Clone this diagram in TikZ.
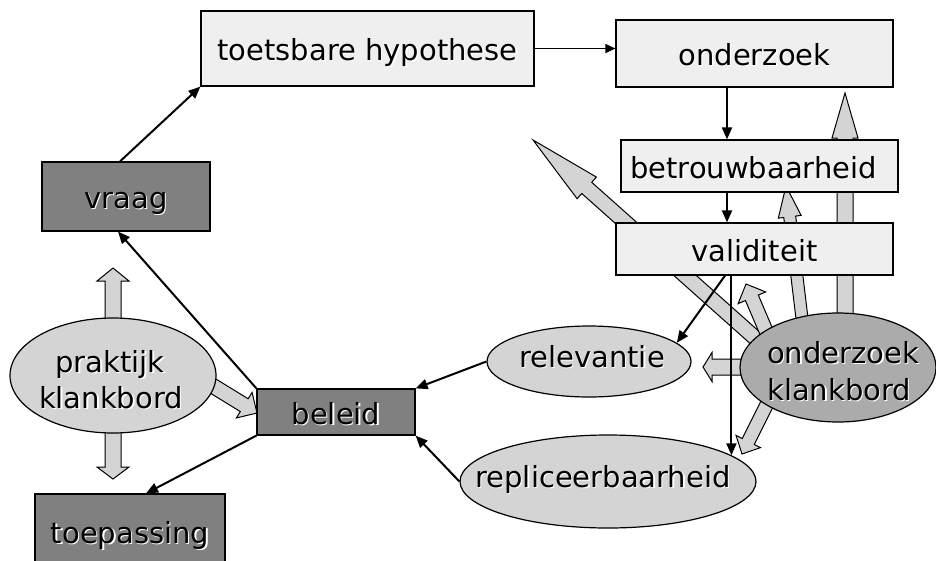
\documentclass[tikz,border=0pt]{standalone}
\usepackage{fontspec}
\setmainfont{DejaVu Sans}
\usetikzlibrary{shapes.geometric,arrows.meta,calc}
\definecolor{boxfill}{RGB}{238,239,238}
\definecolor{darkfill}{RGB}{128,128,128}
\definecolor{ellfill}{RGB}{212,212,212}
\definecolor{okfill}{RGB}{171,171,171}
\newcommand\shd[1]{\rlap{\kern1.3pt\raisebox{-1.3pt}{\color{white}#1}}#1}
\newcommand\blkarrow[6]{%
  \coordinate (#6t) at (#1);
  \coordinate (#6h) at (#2);
  \coordinate (#6b) at ($(#6h)!#5!(#6t)$);
  \draw[blk] ($(#6t)!#3!90:(#6h)$) -- ($(#6b)!#3!90:(#6h)$) -- ($(#6b)!#4!90:(#6h)$) -- (#6h)
     -- ($(#6b)!#4!-90:(#6h)$) -- ($(#6b)!#3!-90:(#6h)$) -- ($(#6t)!#3!-90:(#6h)$) -- cycle;}
\tikzset{
  txt/.style={font=\fontsize{29}{35}\selectfont},
  lightbox/.style={draw, line width=1.2pt, fill=boxfill, inner sep=0pt, txt, text height=25pt, text depth=1pt},
  darkbox/.style={lightbox, fill=darkfill},
  ellnode/.style={ellipse, draw, line width=1.2pt, fill=ellfill, inner sep=0pt},
  lbl/.style={txt, inner sep=0pt},
  conn/.style={line width=2pt, -{Triangle[length=12pt,width=10pt]}},
  thinconn/.style={line width=1.3pt, -{Triangle[length=10pt,width=9pt]}},
  blk/.style={draw, line width=1pt, fill=ellfill, line join=miter},
}
\begin{document}
\begin{tikzpicture}[x=1pt,y=-1pt]
\useasboundingbox (0,0) rectangle (936,560);
\clip (0,0) rectangle (936,560);
\fill[white] (0,0) rectangle (936,560);

% block arrows (behind everything)
\blkarrow{790,369}{533,140}{7.5pt}{14.5pt}{72pt}{a1}
\blkarrow{845,340}{845,93}{8pt}{13pt}{45pt}{a2}
\blkarrow{804,335}{786,186}{6pt}{11.5pt}{31pt}{a3}
\blkarrow{772,345}{746,284}{7pt}{15pt}{15pt}{a4}
\blkarrow{770,367}{703,367}{8pt}{14.5pt}{9pt}{a5}
\blkarrow{771,396}{742,454}{6.7pt}{13.7pt}{14pt}{a6}
\blkarrow{113,330}{113,268}{8pt}{16pt}{13pt}{p1}
\blkarrow{113,420}{113,479}{8pt}{16pt}{12pt}{p2}
\blkarrow{200,378}{257,413}{7.5pt}{15pt}{15pt}{p3}

% boxes
\node[lightbox, minimum width=333pt, minimum height=75pt] (hyp) at (367.5,48.5) {\shd{toetsbare hypothese}};
\node[lightbox, minimum width=277pt, minimum height=67pt] (ond) at (754.5,53.5) {\shd{onderzoek}};
\node[lightbox, minimum width=277pt, minimum height=52pt] (betr) at (759.5,166) {\shd{betrouwbaarheid}\kern12pt};
\node[lightbox, minimum width=277pt, minimum height=52pt] (val) at (754.5,249) {\shd{validiteit}};
\node[darkbox, minimum width=168pt, minimum height=69pt] (vraag) at (126,196.5) {\shd{vraag}};
\node[darkbox, minimum width=158pt, minimum height=46pt] (bel) at (336,412) {\shd{beleid}};
\node[darkbox, minimum width=190pt, minimum height=90pt, text height=0pt, text depth=0pt] (toep) at (130,539) {};
\node[lbl, anchor=base] (toepT) at (130,543) {\shd{toepassing}};

% ellipses
\node[ellnode, minimum width=206pt, minimum height=115pt] (prak) at (113,375.5) {};
\node[lbl, anchor=base] (prakT1) at (110,372) {\shd{praktijk}};
\node[lbl, anchor=base] (prakT2) at (111,408) {\shd{klankbord}};
\node[ellnode, minimum width=204pt, minimum height=71pt] (rel) at (589,361.5) {};
\node[lbl, anchor=base] (relT) at (592,367) {\shd{relevantie}};
\node[ellnode, minimum width=296pt, minimum height=93pt] (rep) at (608,481.5) {};
\node[lbl, anchor=base] (repT) at (603,487) {\shd{repliceerbaarheid}};
\node[ellnode, fill=okfill, minimum width=196pt, minimum height=109pt] (okb) at (838,367.5) {};
\node[lbl, anchor=base west] (okbT1) at (767,363) {\shd{onderzoek}};
\node[lbl, anchor=base west] (okbT2) at (767,400) {\shd{klankbord}};

% connectors
\coordinate (vx) at (727,0);
\draw[conn] (vraag.north) ++(-6,0) coordinate (vq) (vq) -- (hyp.south west);
\draw[thinconn] (hyp.east) -- (hyp.east -| ond.west);
\draw[conn] (ond.south -| vx) -- (betr.north -| vx);
\draw[conn] (betr.south -| vx) -- (val.north -| vx);
\draw[conn] (val.south -| vx) ++(-2,0) coordinate (vr) (vr) -- (rel.12);
\draw[conn] (rep.12.8 |- val.south) -- (rep.12.8);
\draw[conn] (rel.west) -- (bel.north east);
\draw[conn] (rep.west) -- (bel.south east);
\draw[conn] (bel.north west) -- ($(vraag.south)+(-8,0)$);
\draw[conn] (bel.south west) -- ($(toep.north)+(16,0)$);
\end{tikzpicture}
\end{document}
